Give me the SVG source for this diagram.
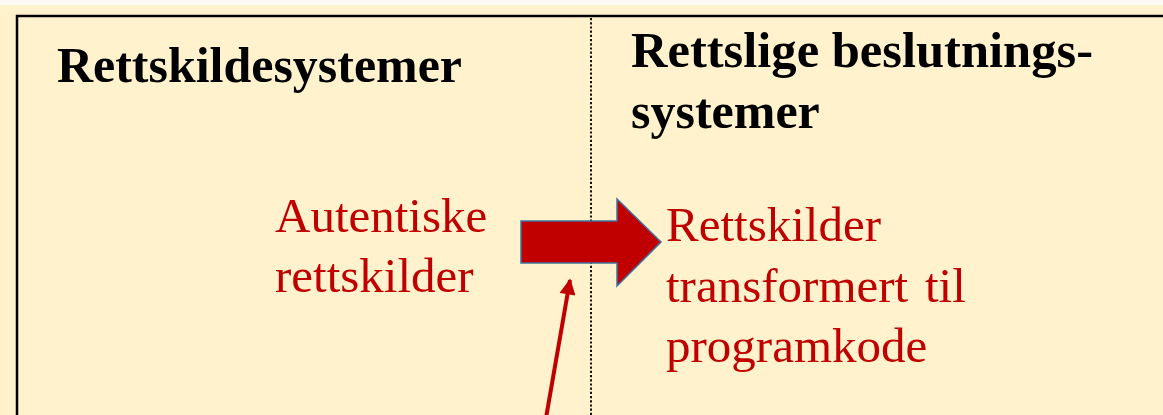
<svg xmlns="http://www.w3.org/2000/svg" width="1163" height="415" viewBox="0 0 1163 415">
<defs>
<style>
.h{font-family:"Liberation Serif","Times New Roman",serif;font-weight:bold;font-size:50px;fill:#000}
.r{font-family:"Liberation Serif","Times New Roman",serif;font-size:49px;fill:#C00000}
</style>
<marker id="ah" viewBox="0 0 10 10" refX="9" refY="5" markerWidth="4.5" markerHeight="4" orient="auto" markerUnits="strokeWidth">
<path d="M0,0 L10,5 L0,10 z" fill="#C00000"/>
</marker>
</defs>
<rect x="0" y="0" width="1163" height="415" fill="#FFF2CC"/>
<rect x="0" y="0" width="1163" height="5" fill="#FBFAF5"/>
<g id="frame">
<path d="M17,420 L17,16 L1170,16" fill="none" stroke="#000" stroke-width="2.5"/>
<line x1="591" y1="18" x2="591" y2="415" stroke="#111" stroke-width="2" stroke-dasharray="2.2,2"/>
</g>
<g id="left-panel">
<text class="h" x="57" y="82" textLength="405" lengthAdjust="spacingAndGlyphs">Rettskildesystemer</text>
</g>
<g id="right-panel">
<text class="h" x="631" y="67" textLength="462" lengthAdjust="spacingAndGlyphs">Rettslige beslutnings-</text>
<text class="h" x="631" y="128">systemer</text>
</g>
<g id="autentiske">
<text class="r" x="275" y="232">Autentiske</text>
<text class="r" x="275" y="292">rettskilder</text>
</g>
<g id="transformert">
<text class="r" x="666" y="241">Rettskilder</text>
<text class="r" x="666" y="302">transformert<tspan x="925">til</tspan></text>
<text class="r" x="666" y="362">programkode</text>
</g>
<g id="connectors">
<path d="M521,221 L617,221 L617,199 L661,242 L617,286 L617,263 L521,263 Z" fill="#C00000" stroke="#41719C" stroke-width="1.5"/>
<line x1="546" y1="418" x2="570" y2="280" stroke="#C00000" stroke-width="4" marker-end="url(#ah)"/>
</g>
</svg>
